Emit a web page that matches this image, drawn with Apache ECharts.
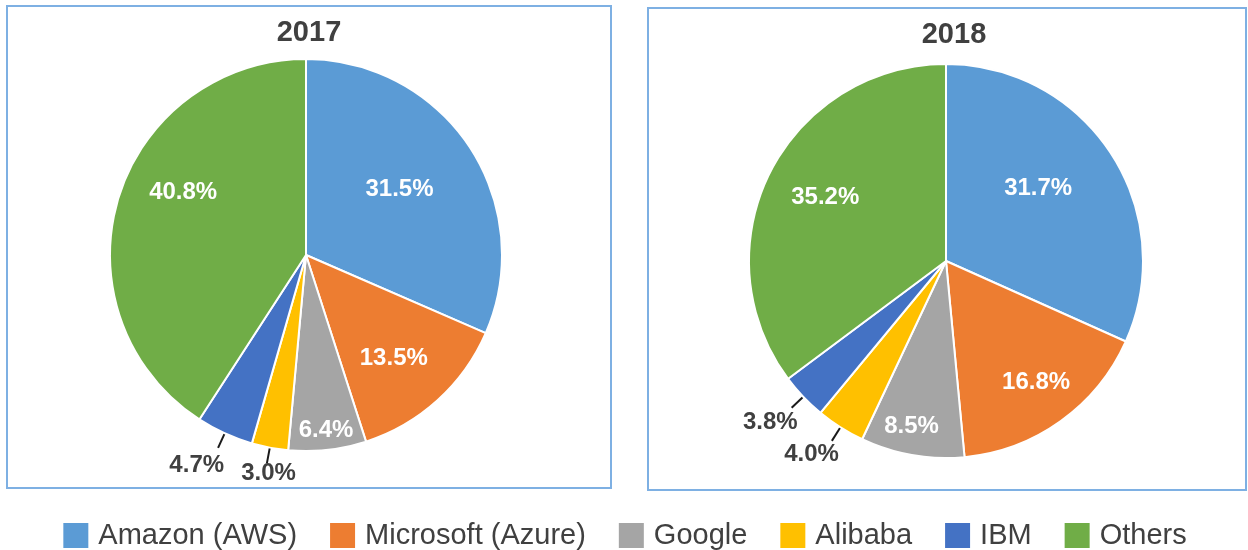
<!DOCTYPE html>
<html>
<head>
<meta charset="utf-8">
<script src="https://cdn.jsdelivr.net/npm/echarts@6/dist/echarts.min.js"></script>
<style>
  html, body { margin: 0; padding: 0; background: #ffffff; }
  #chart { width: 1248px; height: 550px; }
</style>
</head>
<body>
<div id="chart"></div>
<script>
// ---- data ----
const categories = ['Amazon (AWS)', 'Microsoft (Azure)', 'Google', 'Alibaba', 'IBM', 'Others'];
const years = ['2017', '2018'];
const share2017 = [31.5, 13.5, 6.4, 3.0, 4.7, 40.8];
const share2018 = [31.7, 16.8, 8.5, 4.0, 3.8, 35.2];

// ---- style ----
const colors = ['#5B9BD5', '#ED7D31', '#A5A5A5', '#FFC000', '#4472C4', '#70AD47'];
const FONT = '"Liberation Sans", Arial, Helvetica, sans-serif';
const outsideNames = ['Alibaba', 'IBM'];
// fine label nudges (px) per pie, per slice, to mimic the original best-fit placement
const labelNudge = [
  [[9, -10], [20, 29], [9, 75], [32, 10], [9, 17], [-26, -34]],
  [[7, -17], [31, 39], [-17, 65], [10, 14], [9, 15], [-30, -18]]
];

function makeData(values) {
  return categories.map(function (name, i) {
    const outside = outsideNames.indexOf(name) >= 0;
    return {
      name: name,
      value: values[i],
      label: outside ? { position: 'outside', color: '#404040' }
                     : { position: 'inside', color: '#ffffff' },
      labelLine: { show: outside }
    };
  });
}

function pieSeries(values, center, radius) {
  return {
    type: 'pie',
    center: center,
    radius: radius,
    startAngle: 90,
    clockwise: true,
    avoidLabelOverlap: false,
    animation: false,
    itemStyle: { borderColor: '#ffffff', borderWidth: 2 },
    label: {
      show: true,
      fontFamily: FONT,
      fontSize: 24,
      fontWeight: 'bold',
      formatter: function (p) { return p.value.toFixed(1) + '%'; },
      distanceToLabelLine: 3
    },
    labelLine: {
      show: true,
      length: 16,
      length2: 0,
      lineStyle: { color: '#1a1a1a', width: 2 }
    },
    labelLayout: function (p) {
      const n = labelNudge[p.seriesIndex][p.dataIndex];
      return { dx: n[0], dy: n[1], hideOverlap: false, moveOverlap: null };
    },
    emphasis: { disabled: true },
    data: makeData(values)
  };
}

const chart = echarts.init(document.getElementById('chart'), null, { renderer: 'canvas' });
chart.setOption({
  backgroundColor: '#ffffff',
  color: colors,
  title: [
    { text: years[0], left: 304, top: 13, textAlign: 'center',
      textStyle: { fontFamily: FONT, fontSize: 29, fontWeight: 'bold', color: '#404040' } },
    { text: years[1], left: 949, top: 15, textAlign: 'center',
      textStyle: { fontFamily: FONT, fontSize: 29, fontWeight: 'bold', color: '#404040' } }
  ],
  legend: {
    data: categories,
    top: 516,
    left: 'center',
    icon: 'rect',
    itemWidth: 27,
    itemHeight: 27,
    itemGap: 31,
    textStyle: { fontFamily: FONT, fontSize: 29, color: '#404040', padding: [0, 0, 0, 4] }
  },
  graphic: [
    { type: 'rect', shape: { x: 7, y: 6, width: 604, height: 482 },
      style: { fill: 'none', stroke: '#7EB0E3', lineWidth: 2 }, silent: true },
    { type: 'rect', shape: { x: 648, y: 8, width: 598, height: 482 },
      style: { fill: 'none', stroke: '#7EB0E3', lineWidth: 2 }, silent: true }
  ],
  series: [
    pieSeries(share2017, [306, 255], 196),
    pieSeries(share2018, [946, 261], 197)
  ]
});
</script>
</body>
</html>
